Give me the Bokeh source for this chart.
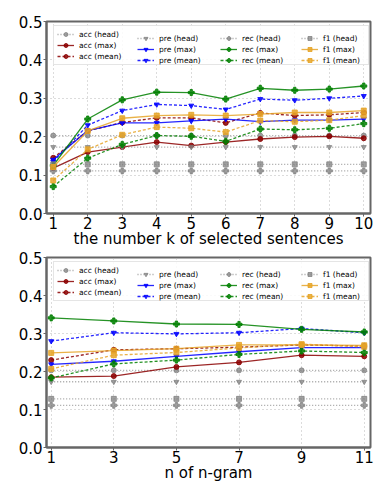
from bokeh.plotting import figure
from bokeh.layouts import column
from bokeh.models import (Range1d, FixedTicker, NumeralTickFormatter, Legend, LegendItem)
from bokeh.embed import file_html
from bokeh.resources import INLINE

# ---------------- data: top chart (k selected sentences) ----------------
k_values = [1, 2, 3, 4, 5, 6, 7, 8, 9, 10]
k_acc_head = [0.203] * 10
k_acc_max = [0.118, 0.160, 0.173, 0.186, 0.177, 0.186, 0.194, 0.199, 0.201, 0.196]
k_acc_mean = [0.145, 0.215, 0.237, 0.249, 0.249, 0.236, 0.262, 0.255, 0.257, 0.263]
k_pre_head = [0.173] * 10
k_pre_max = [0.140, 0.216, 0.236, 0.236, 0.241, 0.246, 0.239, 0.243, 0.243, 0.246]
k_pre_mean = [0.135, 0.230, 0.268, 0.284, 0.281, 0.271, 0.298, 0.295, 0.300, 0.306]
k_rec_head = [0.111] * 10
k_rec_max = [0.125, 0.246, 0.296, 0.316, 0.315, 0.298, 0.326, 0.321, 0.324, 0.332]
k_rec_mean = [0.070, 0.144, 0.180, 0.203, 0.201, 0.188, 0.220, 0.218, 0.222, 0.234]
k_f1_head = [0.128] * 10
k_f1_max = [0.121, 0.215, 0.248, 0.255, 0.257, 0.255, 0.259, 0.263, 0.263, 0.268]
k_f1_mean = [0.086, 0.167, 0.205, 0.225, 0.222, 0.212, 0.242, 0.239, 0.243, 0.255]

# ---------------- data: bottom chart (n of n-gram) ----------------
n_values = [1, 3, 5, 7, 9, 11]
n_acc_head = [0.203] * 6
n_acc_max = [0.185, 0.188, 0.212, 0.224, 0.243, 0.240]
n_acc_mean = [0.230, 0.257, 0.260, 0.264, 0.270, 0.267]
n_pre_head = [0.173] * 6
n_pre_max = [0.219, 0.227, 0.240, 0.252, 0.263, 0.263]
n_pre_mean = [0.280, 0.302, 0.299, 0.302, 0.313, 0.302]
n_rec_head = [0.111] * 6
n_rec_max = [0.341, 0.333, 0.325, 0.324, 0.311, 0.304]
n_rec_mean = [0.183, 0.220, 0.230, 0.245, 0.254, 0.250]
n_f1_head = [0.128] * 6
n_f1_max = [0.249, 0.255, 0.260, 0.270, 0.270, 0.269]
n_f1_mean = [0.207, 0.243, 0.250, 0.262, 0.272, 0.265]

metric_names = ["acc", "pre", "rec", "f1"]
metric_colors = {"acc": "#8b0000", "pre": "#0000ff", "rec": "#008000", "f1": "#e6a428"}
metric_markers = {"acc": "circle", "pre": "inverted_triangle", "rec": "plus", "f1": "square"}
y_ticks = [0.0, 0.1, 0.2, 0.3, 0.4, 0.5]
FONT = "DejaVu Sans"


def build(xs, series, xr, xticks, xlabel, top_border, frame_h, legend_y):
    p = figure(frame_width=324, frame_height=frame_h, output_backend="svg", toolbar_location=None,
               x_range=Range1d(*xr), y_range=Range1d(0, 0.5),
               min_border_left=46, min_border_right=5,
               min_border_top=top_border, min_border_bottom=10)
    p.background_fill_color = "white"
    p.border_fill_color = "white"
    p.outline_line_color = "#666666"
    p.outline_line_width = 2

    for ax in (p.xaxis[0], p.yaxis[0]):
        ax.axis_line_color = "#666666"
        ax.axis_line_width = 2
        ax.major_tick_line_color = "#666666"
        ax.major_tick_out = 3
        ax.major_tick_in = 0
        ax.minor_tick_out = 0
        ax.minor_tick_in = 0
        ax.major_label_text_font = FONT
        ax.major_label_text_font_size = "15px"
        ax.major_label_text_color = "black"
        ax.major_label_standoff = 1
    p.xaxis.major_label_standoff = 0
    p.xaxis.ticker = FixedTicker(ticks=xticks)
    p.yaxis.ticker = FixedTicker(ticks=y_ticks)
    p.yaxis.formatter = NumeralTickFormatter(format="0.0")
    p.xaxis.axis_label = xlabel
    p.xaxis.axis_label_text_font = FONT
    p.xaxis.axis_label_text_font_size = "15px"
    p.xaxis.axis_label_text_font_style = "normal"
    p.xaxis.axis_label_text_color = "black"
    p.xaxis.axis_label_standoff = -2

    for g in (p.xgrid[0], p.ygrid[0]):
        g.grid_line_color = "#b8b8b8"
        g.grid_line_dash = "1 3"
        g.grid_line_width = 1
    p.xgrid.ticker = FixedTicker(ticks=xticks)
    p.ygrid.ticker = FixedTicker(ticks=y_ticks)

    legends_items = []
    for m in metric_names:
        items = []
        for kind in ("head", "max", "mean"):
            ys = series[m][kind]
            if kind == "head":
                col, dash, alpha = "#808080", "1 2", 0.75
            elif kind == "max":
                col, dash, alpha = metric_colors[m], "solid", 0.85
            else:
                col, dash, alpha = metric_colors[m], "3 2", 0.85
            lr = p.line(xs, ys, line_color=col, line_width=1.3, line_dash=dash, line_alpha=alpha)
            sr = p.scatter(xs, ys, marker=metric_markers[m], size=5 if m != "rec" else 6,
                           fill_color=col, line_color=col, fill_alpha=alpha, line_alpha=alpha)
            items.append(LegendItem(label=f"{m} ({kind})", renderers=[lr, sr]))
        legends_items.append(items)

    col_offsets = [7, 91, 174, 255]
    for i, items in enumerate(legends_items):
        lg = Legend(items=items, location=(col_offsets[i], legend_y), orientation="vertical",
                    glyph_width=17, glyph_height=10, label_height=10, spacing=1,
                    padding=3, margin=0, label_standoff=5,
                    label_text_font=FONT, label_text_font_size="7.5px",
                    label_text_color="black")
        if i == 0:
            lg.label_width = 286
            lg.border_line_color = "#cccccc"
            lg.border_line_width = 1
            lg.background_fill_color = "white"
            lg.background_fill_alpha = 0.85
        else:
            lg.label_width = 20
            lg.border_line_color = None
            lg.background_fill_alpha = 0
        p.add_layout(lg, "center")
    return p


top_series = {
    "acc": {"head": k_acc_head, "max": k_acc_max, "mean": k_acc_mean},
    "pre": {"head": k_pre_head, "max": k_pre_max, "mean": k_pre_mean},
    "rec": {"head": k_rec_head, "max": k_rec_max, "mean": k_rec_mean},
    "f1": {"head": k_f1_head, "max": k_f1_max, "mean": k_f1_mean},
}
bot_series = {
    "acc": {"head": n_acc_head, "max": n_acc_max, "mean": n_acc_mean},
    "pre": {"head": n_pre_head, "max": n_pre_max, "mean": n_pre_mean},
    "rec": {"head": n_rec_head, "max": n_rec_max, "mean": n_rec_mean},
    "f1": {"head": n_f1_head, "max": n_f1_max, "mean": n_f1_mean},
}

p1 = build(k_values, top_series, (0.805, 10.195), k_values,
           "the number k of selected sentences", 21, 192, 148)
p2 = build(n_values, bot_series, (0.85, 11.2), n_values,
           "n of n-gram", 7, 190, 146)

layout = column(p1, p2, spacing=0)
open("out.html", "w").write(file_html(layout, INLINE))
